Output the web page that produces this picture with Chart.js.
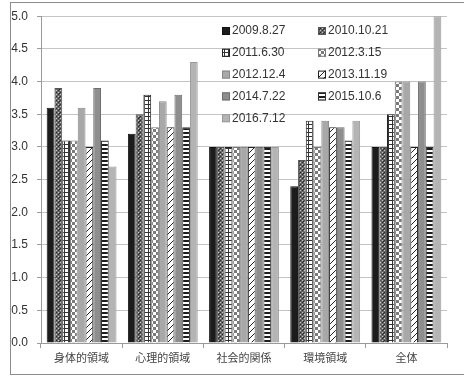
<!DOCTYPE html>
<html>
<head>
<meta charset="utf-8">
<script src="https://cdn.jsdelivr.net/npm/chart.js@4.4.1/dist/chart.umd.min.js"></script>
<style>
    html, body { margin: 0; padding: 0; background: #fff; overflow: hidden; }
    #wrap { position: relative; width: 464px; height: 381px; }
    #wrap canvas { position: absolute; left: 0; top: 0; }
    #frame { position: absolute; left: 10px; top: 2px; width: 470px; height: 371px; border: 1px solid #8c8c8c; pointer-events: none; }
</style>
</head>
<body>
<div id="wrap">
    <canvas id="qolChart" width="464" height="381"></canvas>
    <div id="frame"></div>
</div>
<script>
// categories and survey dates
const categories = ['身体的領域', '心理的領域', '社会的関係', '環境領域', '全体'];
const surveyDates = ['2009.8.27', '2010.10.21', '2011.6.30', '2012.3.15', '2012.12.4', '2013.11.19', '2014.7.22', '2015.10.6', '2016.7.12'];
const yTicks = [0, 0.5, 1, 1.5, 2, 2.5, 3, 3.5, 4, 4.5, 5];

// scores per survey (one value per category)
const s20090827 = [3.6, 3.2, 3.0, 2.4, 3.0];
const s20101021 = [3.9, 3.5, 3.0, 2.8, 3.0];
const s20110630 = [3.1, 3.8, 3.0, 3.4, 3.5];
const s20120315 = [3.1, 3.3, 3.0, 3.0, 4.0];
const s20121204 = [3.6, 3.7, 3.0, 3.4, 4.0];
const s20131119 = [3.0, 3.3, 3.0, 3.3, 3.0];
const s20140722 = [3.9, 3.8, 3.0, 3.3, 4.0];
const s20151006 = [3.1, 3.3, 3.0, 3.1, 3.0];
const s20160712 = [2.7, 4.3, 3.0, 3.4, 5.0];
const seriesValues = [s20090827, s20101021, s20110630, s20120315, s20121204, s20131119, s20140722, s20151006, s20160712];

// fill patterns (Excel style)
function makePattern(size, draw) {
    const c = document.createElement('canvas');
    c.width = size; c.height = size;
    const g = c.getContext('2d');
    draw(g, size);
    return g.createPattern(c, 'repeat');
}

const dotted = makePattern(4, (g) => {
    g.fillStyle = '#666'; g.fillRect(0, 0, 4, 4);
    g.fillStyle = '#2a2a2a'; g.fillRect(0, 0, 1, 1); g.fillRect(2, 2, 1, 1); g.fillRect(3, 1, 1, 1);
    g.fillStyle = '#c8c8c8'; g.fillRect(2, 0, 1, 1); g.fillRect(0, 2, 1, 1);
});
const gridFill = makePattern(4, (g) => {
    g.fillStyle = '#fff'; g.fillRect(0, 0, 4, 4);
    g.fillStyle = '#333'; g.fillRect(0, 0, 4, 1); g.fillRect(0, 0, 1, 4);
});
const checker = makePattern(6, (g) => {
    g.fillStyle = '#fff'; g.fillRect(0, 0, 6, 6);
    g.fillStyle = '#7a7a7a'; g.fillRect(0, 0, 3, 3); g.fillRect(3, 3, 3, 3);
});
const diagonal = makePattern(6, (g) => {
    g.fillStyle = '#fff'; g.fillRect(0, 0, 6, 6);
    g.strokeStyle = '#222'; g.lineWidth = 1;
    g.beginPath(); g.moveTo(-1, 7); g.lineTo(7, -1); g.stroke();
});
const stripes = makePattern(4, (g) => {
    g.fillStyle = '#fff'; g.fillRect(0, 0, 4, 4);
    g.fillStyle = '#1e1e1e'; g.fillRect(0, 0, 4, 2);
});

const fills = ['#1c1c1c', dotted, gridFill, checker, '#a8a8a8', diagonal, '#8e8e8e', stripes, '#b4b4b4'];
const edges = ['#111', '#555', '#222', '#777', '#888', '#222', '#6e6e6e', '#333', '#999'];

const datasets = surveyDates.map((d, i) => ({
    label: d,
    data: seriesValues[i],
    backgroundColor: fills[i],
    borderColor: edges[i],
    borderWidth: 1
}));

// two-column legend drawn inside the plot area
const gridLegend = {
    id: 'gridLegend',
    afterDatasetsDraw(chart, args, opts) {
        const ctx = chart.ctx;
        ctx.save();
        ctx.font = opts.font;
        ctx.textBaseline = 'middle';
        chart.data.datasets.forEach((ds, i) => {
            const x = opts.cols[i % 2];
            const y = opts.top + Math.floor(i / 2) * opts.rowGap;
            ctx.fillStyle = ds.backgroundColor;
            ctx.fillRect(x, y - 4, 8, 8);
            ctx.strokeStyle = ds.borderColor;
            ctx.lineWidth = 1;
            ctx.strokeRect(x + 0.5, y - 3.5, 7, 7);
            ctx.fillStyle = '#333';
            ctx.fillText(ds.label, x + 10, y);
        });
        ctx.restore();
    }
};

const numFont = "'Liberation Sans Narrow', 'Liberation Sans', sans-serif";

new Chart(document.getElementById('qolChart'), {
    type: 'bar',
    data: { labels: categories, datasets: datasets },
    options: {
        responsive: false,
        animation: false,
        layout: { padding: { left: 0, right: 17, top: 14, bottom: 0 } },
        datasets: { bar: { categoryPercentage: 0.86, barPercentage: 1.0 } },
        plugins: {
            legend: { display: false },
            tooltip: { enabled: false },
            gridLegend: { font: "12px " + numFont, cols: [222, 318], top: 31, rowGap: 21.8 }
        },
        scales: {
            x: {
                grid: { drawOnChartArea: false, color: '#9a9a9a', tickLength: 5 },
                border: { color: '#9a9a9a' },
                ticks: { color: '#444', padding: 3, font: { family: "'Noto Sans CJK JP', sans-serif", size: 11 } },
                afterFit(scale) { scale.height = 38; }
            },
            y: {
                min: 0,
                max: 5,
                afterBuildTicks(scale) { scale.ticks = yTicks.map(v => ({ value: v })); },
                ticks: { color: '#333', padding: 9, font: { family: numFont, size: 12 }, callback: v => v.toFixed(1) },
                grid: { color: '#c4c4c4', tickColor: '#9a9a9a', tickLength: 4 },
                border: { color: '#9a9a9a' },
                afterFit(scale) { scale.width = 41; }
            }
        }
    },
    plugins: [gridLegend]
});
</script>
</body>
</html>
